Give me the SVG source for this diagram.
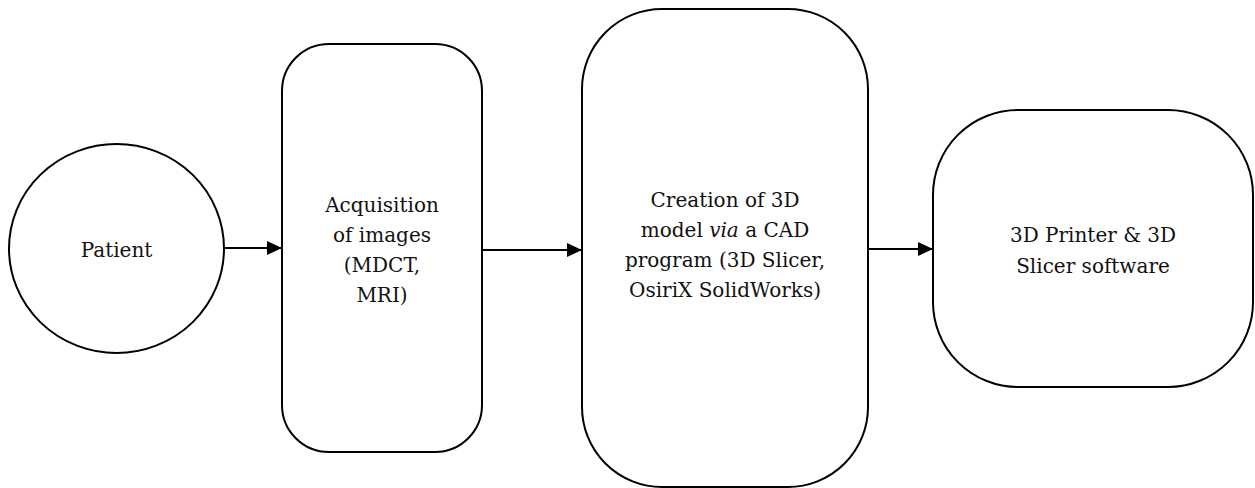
<svg xmlns="http://www.w3.org/2000/svg" width="1255" height="488" viewBox="0 0 1255 488">
<defs>
<marker id="ah" markerWidth="15" markerHeight="14" refX="15" refY="7" orient="auto" markerUnits="userSpaceOnUse">
<path d="M0,0 L15,7 L0,14 Z" fill="#000"/>
</marker>
<style>
.shape{fill:#fff;stroke:#000;stroke-width:2}
.lbl{font-family:"DejaVu Serif","Liberation Serif",serif;font-size:20px;fill:#111;text-anchor:middle}
.conn{stroke:#000;stroke-width:2;fill:none;marker-end:url(#ah)}
</style>
</defs>
<rect width="1255" height="488" fill="#fff"/>
<g id="connectors">
<line class="conn" x1="224" y1="248" x2="282" y2="248"/>
<line class="conn" x1="482" y1="250" x2="582" y2="250"/>
<line class="conn" x1="868" y1="249" x2="933" y2="249"/>
</g>
<g id="patient">
<ellipse class="shape" cx="116.5" cy="248.5" rx="107.5" ry="104.5"/>
<text class="lbl" x="116.5" y="257">Patient</text>
</g>
<g id="acquisition">
<rect class="shape" x="282" y="44" width="200" height="408" rx="47" ry="47"/>
<text class="lbl" x="382" y="212">Acquisition</text>
<text class="lbl" x="382" y="242">of images</text>
<text class="lbl" x="382" y="272">(MDCT,</text>
<text class="lbl" x="382" y="302">MRI)</text>
</g>
<g id="creation">
<rect class="shape" x="582" y="9" width="286" height="478" rx="80" ry="80"/>
<text class="lbl" x="725" y="207">Creation of 3D</text>
<text class="lbl" x="725" y="237">model <tspan font-style="italic">via</tspan> a CAD</text>
<text class="lbl" x="725" y="267">program (3D Slicer,</text>
<text class="lbl" x="725" y="297">OsiriX SolidWorks)</text>
</g>
<g id="printer">
<rect class="shape" x="933" y="110" width="320" height="277" rx="85" ry="85"/>
<text class="lbl" x="1093" y="242">3D Printer &amp; 3D</text>
<text class="lbl" x="1093" y="273">Slicer software</text>
</g>
</svg>
